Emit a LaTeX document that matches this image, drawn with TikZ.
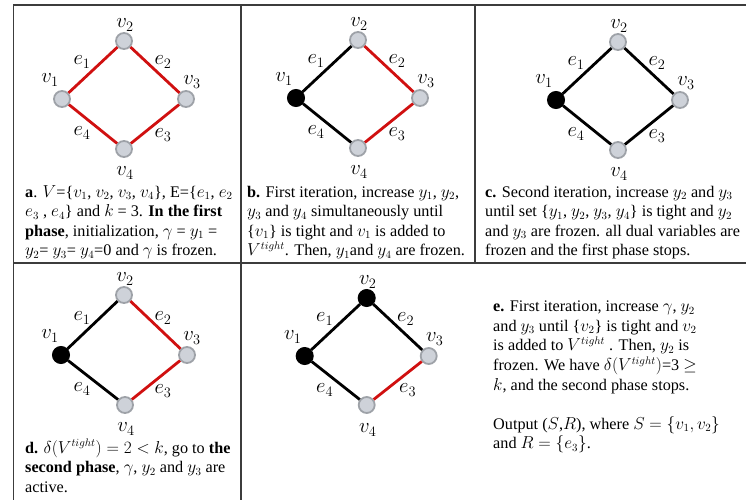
\documentclass[tikz,border=0pt]{standalone}
\usepackage{amsmath}
\usepackage{amssymb}
\usepackage{fontspec}
\setmainfont{Liberation Serif}
\usepackage{tikz}
\usetikzlibrary{
  arrows.meta,  % 箭头样式
  positioning   % 节点相对定位
}
\definecolor{nodegray}{RGB}{206,210,217}
\definecolor{nodeedge}{RGB}{158,162,168}
\definecolor{edgered}{RGB}{208,16,16}
\definecolor{gridline}{RGB}{60,60,60}

\begin{document}
\begin{tikzpicture}[x=1pt, y=-1pt,
  gnode/.style={circle, fill=nodegray, draw=nodeedge, line width=1.8pt, minimum size=16pt, inner sep=0pt},
  bnode/.style={circle, fill=black, draw=black, line width=1pt, minimum size=17pt, inner sep=0pt},
  redge/.style={edgered, line width=2.8pt},
  kedge/.style={black, line width=2.8pt},
  vlab/.style={inner sep=0pt, font=\fontsize{21}{21}\selectfont},
  elab/.style={inner sep=0pt, font=\fontsize{21}{21}\selectfont},
  capt/.style={inner sep=0pt, anchor=base west, font=\fontsize{16.2}{19.6}\selectfont}]

  \useasboundingbox (0,0) rectangle (746,500);

  % =============== 表格框线 ===============
  \draw[gridline, line width=1.4pt] (13.5,500) -- (13.5,5) -- (746,5);
  \draw[gridline, line width=1.4pt] (13.5,263) -- (746,263);
  \draw[gridline, line width=1.4pt] (241,5) -- (241,500);
  \draw[gridline, line width=1.4pt] (475,5) -- (475,263);

  % =============== 图 a: 初始，全部红边 ===============
  \begin{scope}[shift={(124,99)}, name prefix=a-]
    \node[gnode] (v1) at (-62,0) {};
    \node[gnode] (v2) at (0,-58) {};
    \node[gnode] (v3) at (62,0) {};
    \node[gnode] (v4) at (0,50) {};
    \draw[redge] (v1) -- (v2);
    \draw[redge] (v2) -- (v3);
    \draw[redge] (v3) -- (v4);
    \draw[redge] (v4) -- (v1);
    \node[vlab] (l1) at (-74,-19) {$v_1$};
    \node[vlab] (l2) at (1,-74) {$v_2$};
    \node[vlab] (l3) at (68,-17) {$v_3$};
    \node[vlab] (l4) at (1,74) {$v_4$};
    \node[elab] (m1) at (-42,-37) {$e_1$};
    \node[elab] (m2) at (39,-37) {$e_2$};
    \node[elab] (m3) at (39,36) {$e_3$};
    \node[elab] (m4) at (-42,34) {$e_4$};
  \end{scope}

  % =============== 图 b: v1 变紧 ===============
  \begin{scope}[shift={(358,98)}, name prefix=b-]
    \node[bnode] (v1) at (-62,0) {};
    \node[gnode] (v2) at (0,-58) {};
    \node[gnode] (v3) at (62,0) {};
    \node[gnode] (v4) at (0,50) {};
    \draw[kedge] (v1) -- (v2);
    \draw[redge] (v2) -- (v3);
    \draw[redge] (v3) -- (v4);
    \draw[kedge] (v4) -- (v1);
    \node[vlab] (l1) at (-74,-19) {$v_1$};
    \node[vlab] (l2) at (1,-74) {$v_2$};
    \node[vlab] (l3) at (68,-17) {$v_3$};
    \node[vlab] (l4) at (1,74) {$v_4$};
    \node[elab] (m1) at (-42,-37) {$e_1$};
    \node[elab] (m2) at (39,-37) {$e_2$};
    \node[elab] (m3) at (39,36) {$e_3$};
    \node[elab] (m4) at (-42,34) {$e_4$};
  \end{scope}

  % =============== 图 c: 第一阶段结束 ===============
  \begin{scope}[shift={(618,100)}, name prefix=c-]
    \node[bnode] (v1) at (-62,0) {};
    \node[gnode] (v2) at (0,-58) {};
    \node[gnode] (v3) at (62,0) {};
    \node[gnode] (v4) at (0,50) {};
    \draw[kedge] (v1) -- (v2);
    \draw[kedge] (v2) -- (v3);
    \draw[kedge] (v3) -- (v4);
    \draw[kedge] (v4) -- (v1);
    \node[vlab] (l1) at (-74,-19) {$v_1$};
    \node[vlab] (l2) at (1,-74) {$v_2$};
    \node[vlab] (l3) at (68,-17) {$v_3$};
    \node[vlab] (l4) at (1,74) {$v_4$};
    \node[elab] (m1) at (-42,-37) {$e_1$};
    \node[elab] (m2) at (39,-37) {$e_2$};
    \node[elab] (m3) at (39,36) {$e_3$};
    \node[elab] (m4) at (-42,34) {$e_4$};
  \end{scope}

  % =============== 图 d: 进入第二阶段 ===============
  \begin{scope}[shift={(124,355)}, name prefix=d-]
    \node[bnode] (v1) at (-63,0) {};
    \node[gnode] (v2) at (0,-60) {};
    \node[gnode] (v3) at (63,0) {};
    \node[gnode] (v4) at (1,50) {};
    \draw[kedge] (v1) -- (v2);
    \draw[redge] (v2) -- (v3);
    \draw[redge] (v3) -- (v4);
    \draw[kedge] (v4) -- (v1);
    \node[vlab] (l1) at (-74,-19) {$v_1$};
    \node[vlab] (l2) at (1,-76) {$v_2$};
    \node[vlab] (l3) at (68,-17) {$v_3$};
    \node[vlab] (l4) at (2,74) {$v_4$};
    \node[elab] (m1) at (-42,-37) {$e_1$};
    \node[elab] (m2) at (39,-37) {$e_2$};
    \node[elab] (m3) at (39,36) {$e_3$};
    \node[elab] (m4) at (-42,34) {$e_4$};
  \end{scope}

  % =============== 图 e: 第二阶段结束 ===============
  \begin{scope}[shift={(366.7,356)}, name prefix=e-]
    \node[bnode] (v1) at (-62,0) {};
    \node[bnode] (v2) at (0,-58) {};
    \node[gnode] (v3) at (62,0) {};
    \node[gnode] (v4) at (0,49) {};
    \draw[kedge] (v1) -- (v2);
    \draw[kedge] (v2) -- (v3);
    \draw[redge] (v3) -- (v4);
    \draw[kedge] (v4) -- (v1);
    \node[vlab] (l1) at (-74,-19) {$v_1$};
    \node[vlab] (l2) at (1,-74) {$v_2$};
    \node[vlab] (l3) at (68,-17) {$v_3$};
    \node[vlab] (l4) at (1,74) {$v_4$};
    \node[elab] (m1) at (-42,-37) {$e_1$};
    \node[elab] (m2) at (39,-37) {$e_2$};
    \node[elab] (m3) at (41,34) {$e_3$};
    \node[elab] (m4) at (-42,34) {$e_4$};
  \end{scope}

  % =============== 各格说明文字 ===============
  \node[capt] (ta) at (25,197) {\parbox[t]{216pt}{\raggedright
    \textbf{a}. $V$=\{$v_1$, $v_2$, $v_3$, $v_4$\}, E=\{$e_1$, $e_2$\\
    $e_3$ , $e_4$\} and $k$ = 3. \textbf{In the first}\\
    \textbf{phase}, initialization, $\gamma$ = $y_1$ =\\
    $y_2$= $y_3$= $y_4$=0 and $\gamma$ is frozen.}};
  \node[capt] (tb) at (247,197) {\parbox[t]{226pt}{\raggedright
    \textbf{b.} First iteration, increase $y_1$, $y_2$,\\
    $y_3$ and $y_4$ simultaneously until\\
    \{$v_1$\} is tight and $v_1$ is added to\\
    $V^{tight}$. Then, $y_1$and $y_4$ are frozen.}};
  \node[capt] (tc) at (485,197) {\parbox[t]{258pt}{\raggedright
    \textbf{c.} Second iteration, increase $y_2$ and $y_3$\\
    until set \{$y_1$, $y_2$, $y_3$, $y_4$\} is tight and $y_2$\\
    and $y_3$ are frozen. all dual variables are\\
    frozen and the first phase stops.}};
  \node[capt] (td) at (25,453) {\parbox[t]{216pt}{\raggedright
    \textbf{d.} $\delta(V^{tight}) = 2 < k$, go to \textbf{the}\\
    \textbf{second phase}, $\gamma$, $y_2$ and $y_3$ are\\
    active.}};
  \node[capt] (te) at (493,311.7) {\parbox[t]{250pt}{\raggedright
    \textbf{e.} First iteration, increase $\gamma$, $y_2$\\
    and $y_3$ until \{$v_2$\} is tight and $v_2$\\
    is added to $V^{tight}$ . Then, $y_2$ is\\
    frozen. We have $\delta(V^{tight})$=3 $\geq$\\
    $k$, and the second phase stops.\\[19.6pt]
    Output ($S$,$R$), where $S = \{v_1, v_2\}$\\
    and $R = \{e_3\}$.}};

\end{tikzpicture}
\end{document}
